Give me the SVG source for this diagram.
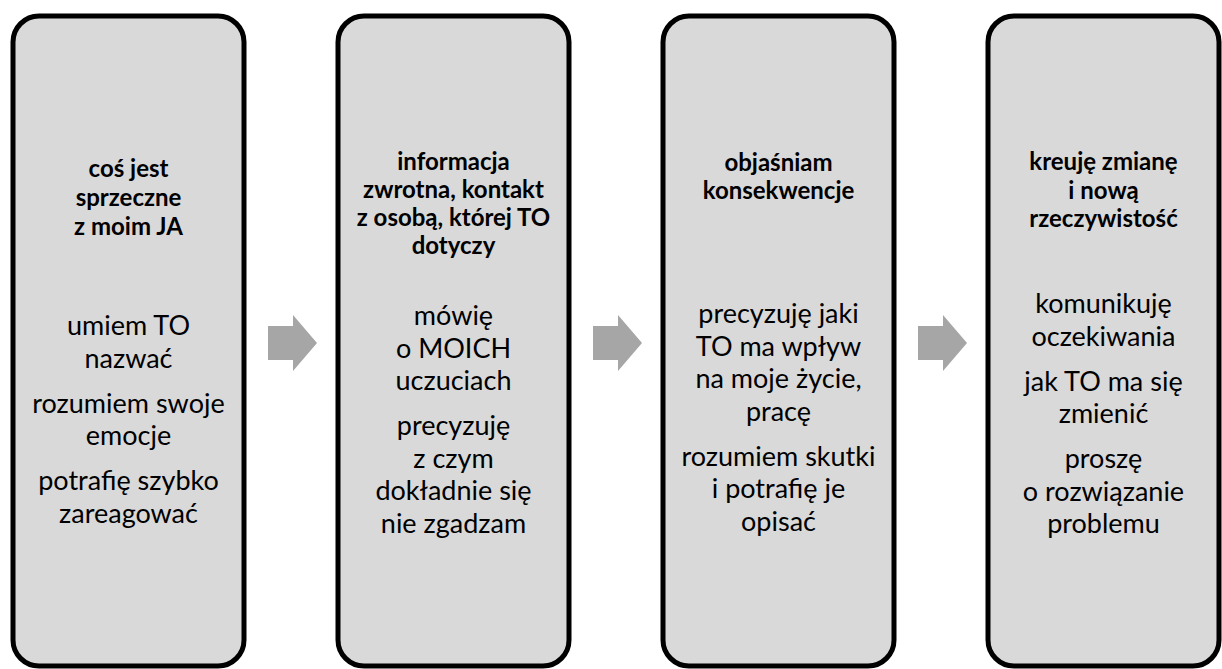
<svg xmlns="http://www.w3.org/2000/svg" width="1222" height="669" viewBox="0 0 1222 669">
<style>
.box{fill:#D9D9D9;stroke:#000;stroke-width:5}
.arrow{fill:#A6A6A6}
text{font-family:Lato,"Liberation Sans",sans-serif;text-anchor:middle;fill:#000}
.t{font-weight:bold;font-size:24px}
.r{font-size:27px}
</style>
<rect width="1222" height="669" fill="#fff"/>
<g id="connectors">
<polygon class="arrow" points="268,326 293,326 293,315 317,343 293,371 293,360 268,360"/>
<polygon class="arrow" points="593,326 618,326 618,315 642,343 618,371 618,360 593,360"/>
<polygon class="arrow" points="918,326 943,326 943,315 967,343 943,371 943,360 918,360"/>
</g>
<g id="node1">
<rect class="box" x="13" y="16" width="231" height="650" rx="26"/>
<text class="t" x="128.5" y="177">coś jest</text>
<text class="t" x="128.5" y="206">sprzeczne</text>
<text class="t" x="128.5" y="235">z moim JA</text>
<text class="r" x="128.5" y="335">umiem TO</text>
<text class="r" x="128.5" y="367.5">nazwać</text>
<text class="r" x="128.5" y="412.5">rozumiem swoje</text>
<text class="r" x="128.5" y="445">emocje</text>
<text class="r" x="128.5" y="490">potrafię szybko</text>
<text class="r" x="128.5" y="522.5">zareagować</text>
</g>
<g id="node2">
<rect class="box" x="338" y="16" width="231" height="650" rx="26"/>
<text class="t" x="453.5" y="170">informacja</text>
<text class="t" x="453.5" y="198">zwrotna, kontakt</text>
<text class="t" x="453.5" y="226">z osobą, której TO</text>
<text class="t" x="453.5" y="254">dotyczy</text>
<text class="r" x="453.5" y="325">mówię</text>
<text class="r" x="453.5" y="357.5">o MOICH</text>
<text class="r" x="453.5" y="390">uczuciach</text>
<text class="r" x="453.5" y="435">precyzuję</text>
<text class="r" x="453.5" y="467.5">z czym</text>
<text class="r" x="453.5" y="500">dokładnie się</text>
<text class="r" x="453.5" y="532.5">nie zgadzam</text>
</g>
<g id="node3">
<rect class="box" x="663" y="16" width="231" height="650" rx="26"/>
<text class="t" x="778.5" y="171">objaśniam</text>
<text class="t" x="778.5" y="199">konsekwencje</text>
<text class="r" x="778.5" y="323">precyzuję jaki</text>
<text class="r" x="778.5" y="355.5">TO ma wpływ</text>
<text class="r" x="778.5" y="388">na moje życie,</text>
<text class="r" x="778.5" y="420.5">pracę</text>
<text class="r" x="778.5" y="465.5">rozumiem skutki</text>
<text class="r" x="778.5" y="498">i potrafię je</text>
<text class="r" x="778.5" y="530.5">opisać</text>
</g>
<g id="node4">
<rect class="box" x="988" y="16" width="231" height="650" rx="26"/>
<text class="t" x="1103.5" y="170">kreuję zmianę</text>
<text class="t" x="1103.5" y="198.5">i nową</text>
<text class="t" x="1103.5" y="227">rzeczywistość</text>
<text class="r" x="1103.5" y="313">komunikuję</text>
<text class="r" x="1103.5" y="345.5">oczekiwania</text>
<text class="r" x="1103.5" y="390.5">jak TO ma się</text>
<text class="r" x="1103.5" y="423">zmienić</text>
<text class="r" x="1103.5" y="468">proszę</text>
<text class="r" x="1103.5" y="500.5">o rozwiązanie</text>
<text class="r" x="1103.5" y="533">problemu</text>
</g>
</svg>
